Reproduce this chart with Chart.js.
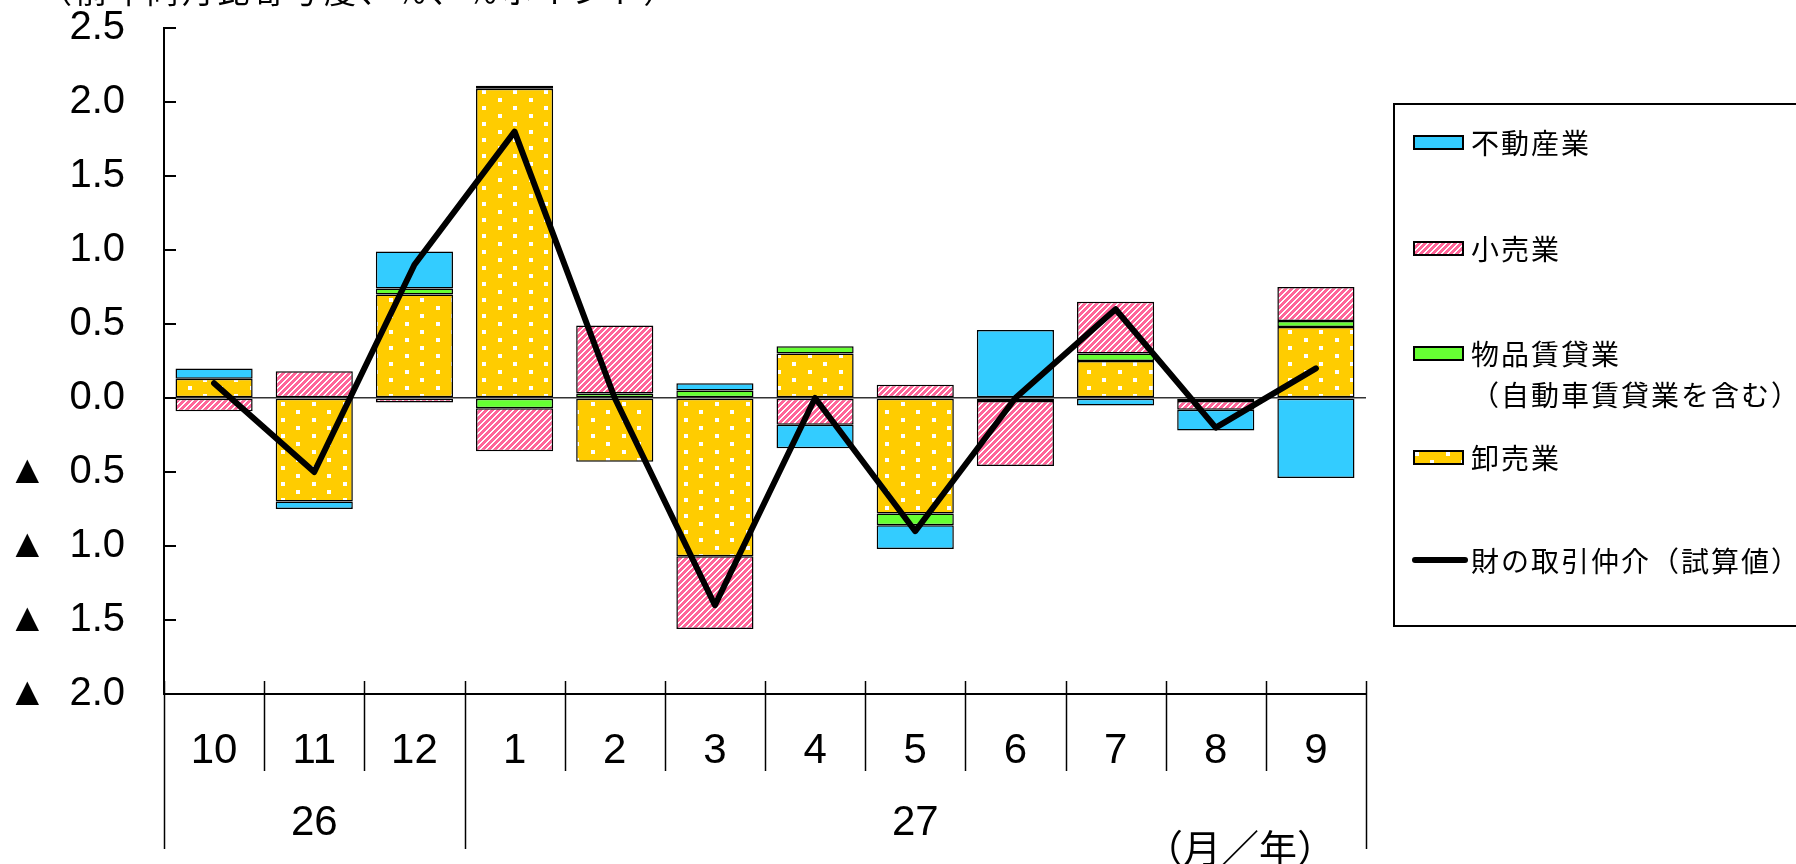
<!DOCTYPE html>
<html>
<head>
<meta charset="utf-8">
<script src="https://cdn.jsdelivr.net/npm/chart.js"></script>
<style>
body{margin:0;background:#fff;overflow:hidden}
#wrap{position:relative;width:1796px;height:864px;overflow:hidden}
#chart{position:absolute;left:0;top:0}
#title{position:absolute;left:40px;top:-34px;font:32px "Noto Sans CJK JP";letter-spacing:3.5px;white-space:nowrap}
#legend{position:absolute;left:1393px;top:103px;width:460px;height:524px;border:2px solid #000;box-sizing:border-box}
.lg-text{position:absolute;left:76px;font:28px "Noto Sans CJK JP";letter-spacing:2px;line-height:41px;white-space:pre;color:#000}
.lg-sw{position:absolute;left:18px}
.lg-line{position:absolute;left:17px;width:56px;height:6px;background:#000;border-radius:3px}
</style>
</head>
<body>
<div id="wrap">
<canvas id="chart" width="1796" height="864"></canvas>
<div id="title">（前年同月比寄与度、％、％ポイント）</div>
<div id="legend"></div>
</div>
<script>
// 月 / 年
var months = ['10','11','12','1','2','3','4','5','6','7','8','9'];
var years = ['26','27'];
var yearSpans = [3, 9];
var unitLabel = '（月／年）';
var yTickLabels = ['▲  2.0','▲  1.5','▲  1.0','▲  0.5','0.0','0.5','1.0','1.5','2.0','2.5'];

// 寄与度
var oroshi   = [0.13, -0.70, 0.70, 2.09, -0.43, -1.07, 0.30, -0.78, null, 0.25, null, 0.48];
var buppin   = [null, null, 0.04, -0.07, 0.03, 0.05, 0.05, -0.08, -0.02, 0.05, -0.02, 0.04];
var kouri    = [-0.09, 0.18, -0.03, -0.29, 0.46, -0.49, -0.18, 0.09, -0.44, 0.35, -0.06, 0.23];
var fudousan = [0.07, -0.05, 0.25, 0.02, null, 0.05, -0.16, -0.16, 0.46, -0.05, -0.14, -0.54];
var zai      = [0.1, -0.5, 0.9, 1.8, 0.0, -1.4, 0.0, -0.9, 0.0, 0.6, -0.2, 0.2];

var seriesNames = ['不動産業', '小売業', '物品賃貸業\n（自動車賃貸業を含む）', '卸売業', '財の取引仲介（試算値）'];

function dotPattern(){
    var t = document.createElement('canvas');
    t.width = 31; t.height = 16;
    var c = t.getContext('2d');
    c.fillStyle = '#FFCC00'; c.fillRect(0,0,31,16);
    c.fillStyle = '#fff';
    c.fillRect(2,2,4,4);
    c.fillRect(17,10,4,4);
    return document.createElement('canvas').getContext('2d').createPattern(t,'repeat');
}
function hatchPattern(){
    var t = document.createElement('canvas');
    t.width = 6; t.height = 6;
    var c = t.getContext('2d');
    c.fillStyle = '#fff'; c.fillRect(0,0,6,6);
    c.fillStyle = '#FF6699';
    for (var x=0;x<6;x++){
        for (var y=0;y<6;y++){
            if ((x+y)%6 < 4) c.fillRect(x,y,1,1);
        }
    }
    return document.createElement('canvas').getContext('2d').createPattern(t,'repeat');
}
var dots = dotPattern(), hatch = hatchPattern();
var blue = '#33CCFF', green = '#66FF33';

var axisExtras = {
    id: 'axisExtras',
    afterDraw: function(chart){
        var c = chart.ctx, a = chart.chartArea, xs = chart.scales.x, ys = chart.scales.y;
        c.save();
        c.strokeStyle = '#000';
        // ticks pointing inward
        c.lineWidth = 2;
        ys.ticks.forEach(function(t){
            var py = Math.round(ys.getPixelForValue(t.value));
            c.beginPath(); c.moveTo(a.left, py); c.lineTo(a.left+12, py); c.stroke();
        });
        // separators
        var half = (xs.getPixelForValue(1) - xs.getPixelForValue(0)) / 2;
        var edges = [0], acc = 0;
        yearSpans.forEach(function(s){ acc += s; edges.push(acc); });
        c.lineWidth = 1.5;
        for (var i=0;i<=months.length;i++){
            var px = Math.round(xs.getPixelForValue(i) - half) + 0.5;
            var longLine = edges.indexOf(i) >= 0;
            c.beginPath();
            c.moveTo(px, a.bottom - 13);
            c.lineTo(px, longLine ? a.bottom + 155 : a.bottom + 77);
            c.stroke();
        }
        // years
        c.fillStyle = '#000';
        c.textAlign = 'center';
        c.textBaseline = 'middle';
        c.font = '42px "Liberation Sans", Arial';
        for (var k=0;k<years.length;k++){
            var x0 = xs.getPixelForValue(edges[k]) - half;
            var x1 = xs.getPixelForValue(edges[k+1]-1) + half;
            c.fillText(years[k], (x0+x1)/2, a.bottom + 129);
        }
        c.textAlign = 'left';
        c.font = '38px "Noto Sans CJK JP"';
        c.fillText(unitLabel, 1145, a.bottom + 154);
        c.restore();
    }
};

var bar = {borderColor:'#000', borderWidth:1.5, borderSkipped:false, barPercentage:0.77, categoryPercentage:1, order:1};

new Chart(document.getElementById('chart'), {
    type: 'bar',
    data: {
        labels: months,
        datasets: [
            Object.assign({label: seriesNames[3], data: oroshi, backgroundColor: dots}, bar),
            Object.assign({label: seriesNames[2], data: buppin, backgroundColor: green}, bar),
            Object.assign({label: seriesNames[1], data: kouri, backgroundColor: hatch}, bar),
            Object.assign({label: seriesNames[0], data: fudousan, backgroundColor: blue}, bar),
            {
                type: 'line',
                label: seriesNames[4],
                data: zai,
                borderColor: '#000',
                borderWidth: 6,
                pointRadius: 0,
                tension: 0,
                borderJoinStyle: 'round',
                borderCapStyle: 'round',
                stack: 'line',
                order: 0
            }
        ]
    },
    options: {
        responsive: false,
        animation: false,
        devicePixelRatio: 1,
        layout: {padding: {top: 28, right: 430, left: 0, bottom: 0}},
        plugins: {legend: {display: false}, tooltip: {enabled: false}},
        scales: {
            x: {
                stacked: true,
                grid: {display: false, drawTicks: false},
                border: {display: true, color: '#000', width: 2},
                ticks: {color: '#000', font: {family: '"Liberation Sans", Arial', size: 42}, padding: 32, maxRotation: 0, autoSkip: false},
                afterFit: function(s){ s.height = 170; s.paddingLeft = 0; s.paddingRight = 0; }
            },
            y: {
                stacked: true,
                min: -2, max: 2.5,
                grid: {
                    drawTicks: false,
                    color: function(ctx){ return ctx.tick && ctx.tick.value === 0 ? '#333' : 'rgba(0,0,0,0)'; },
                    lineWidth: 1.5
                },
                border: {display: true, color: '#000', width: 2},
                ticks: {
                    stepSize: 0.5,
                    color: '#000',
                    padding: 39,
                    font: {family: '"Liberation Sans", Arial', size: 40},
                    callback: function(v, i){ return yTickLabels[i]; }
                },
                afterFit: function(s){ s.width = 164; s.paddingTop = 0; s.paddingBottom = 0; }
            }
        }
    },
    plugins: [axisExtras]
});

// legend
var lg = document.getElementById('legend');
var rows = [
    {name: seriesNames[0], fill: blue, top: 37},
    {name: seriesNames[1], fill: hatch, top: 143},
    {name: seriesNames[2], fill: green, top: 248},
    {name: seriesNames[3], fill: dots, top: 352},
    {name: seriesNames[4], line: true, top: 455}
];
rows.forEach(function(r){
    var t = document.createElement('div');
    t.className = 'lg-text';
    t.style.top = (r.top - 20.5) + 'px';
    t.textContent = r.name;
    lg.appendChild(t);
    if (r.line){
        var l = document.createElement('div');
        l.className = 'lg-line';
        l.style.top = (r.top - 3) + 'px';
        lg.appendChild(l);
    } else {
        var sw = document.createElement('canvas');
        sw.className = 'lg-sw';
        sw.width = 51; sw.height = 15;
        sw.style.top = (r.top - 7.5) + 'px';
        var c = sw.getContext('2d');
        c.fillStyle = r.fill; c.fillRect(0,0,51,15);
        c.strokeStyle = '#000'; c.lineWidth = 2; c.strokeRect(1,1,49,13);
        lg.appendChild(sw);
    }
});
</script>
</body>
</html>
